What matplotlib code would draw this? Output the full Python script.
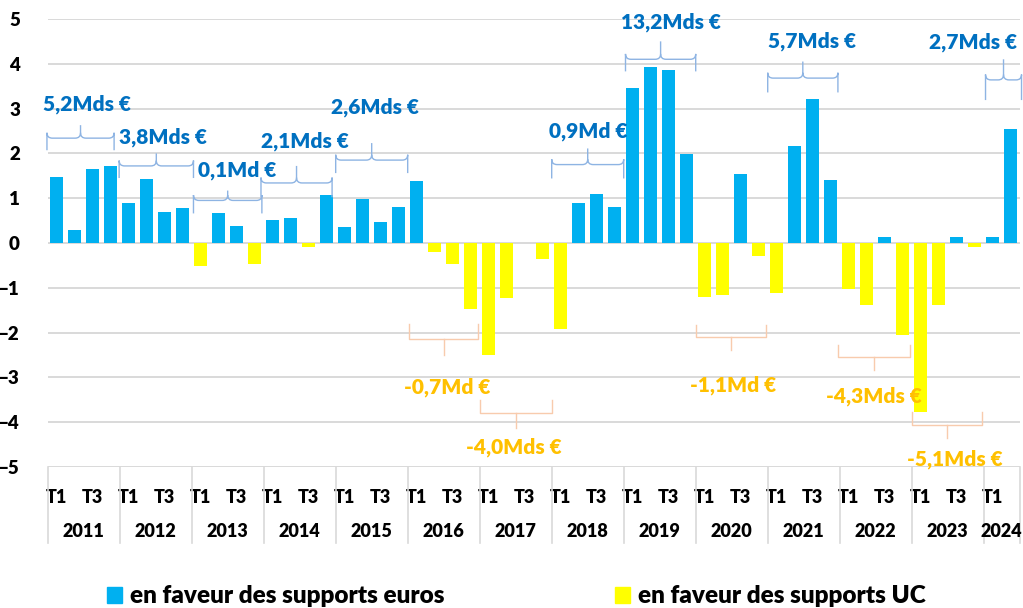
import numpy as np
import matplotlib.pyplot as plt
import matplotlib.transforms as mtransforms
from matplotlib.path import Path
from matplotlib.patches import PathPatch, Patch

plt.rcParams['font.family'] = ['Lato', 'DejaVu Sans']
plt.rcParams['font.weight'] = 'bold'

# donnees : flux nets trimestriels (Mds EUR), T1 2011 -> T2 2024
annees = ['2011', '2012', '2013', '2014', '2015', '2016', '2017',
          '2018', '2019', '2020', '2021', '2022', '2023', '2024']
trim_labels = ['T1', '', 'T3', '']
flux = [1.48, 0.28, 1.65, 1.71,
        0.89, 1.42, 0.69, 0.78,
        -0.51, 0.66, 0.37, -0.46,
        0.52, 0.56, -0.09, 1.08,
        0.35, 0.98, 0.46, 0.81,
        1.38, -0.21, -0.46, -1.48,
        -2.50, -1.23, 0.0, -0.36,
        -1.92, 0.89, 1.10, 0.80,
        3.47, 3.92, 3.86, 1.99,
        -1.20, -1.17, 1.54, -0.30,
        -1.11, 2.17, 3.21, 1.40,
        -1.02, -1.39, 0.13, -2.05,
        -3.78, -1.39, 0.13, -0.09,
        0.13, 2.54]
totaux_euros = ['5,2Mds €', '3,8Mds €', '0,1Md €', '2,1Mds €', '2,6Mds €',
                '0,9Md €', '13,2Mds €', '5,7Mds €', '2,7Mds €']
totaux_uc = ['-0,7Md €', '-4,0Mds €', '-1,1Md €', '-4,3Mds €', '-5,1Mds €']
leg_labels = ['en faveur des supports euros', 'en faveur des supports UC']

bleu = '#00B0F0'
jaune = '#FFFF00'

# placement des accolades : x0, x1, y extremites, y horizontal, y pointe, x texte, y texte
pos_euros = [(-0.54, 3.19, 2.07, 2.34, 2.63, 1.7, 3.10),
             (3.47, 7.6, 1.45, 1.72, 2.00, 5.9, 2.37),
             (7.6, 11.4, 0.66, 0.95, 1.17, 10.0, 1.62),
             (11.35, 15.3, 1.02, 1.34, 1.72, 13.8, 2.26),
             (15.5, 19.5, 1.56, 1.85, 2.23, 17.7, 3.04),
             (27.5, 31.5, 1.44, 1.75, 2.11, 29.5, 2.50),
             (31.6, 35.5, 3.83, 4.10, 4.50, 34.1, 4.92),
             (39.5, 43.4, 3.36, 3.68, 4.05, 41.96, 4.50),
             (51.6, 53.6, 3.19, 3.64, 4.10, 50.9, 4.47)]
pos_uc = [(19.6, 23.4, -1.80, -2.15, -2.50, 21.7, -3.22),
          (23.5, 27.5, -3.50, -3.80, -4.14, 25.4, -4.55),
          (35.5, 39.4, -1.83, -2.10, -2.38, 37.56, -3.17),
          (43.4, 47.4, -2.27, -2.55, -2.83, 45.4, -3.43),
          (47.5, 51.4, -3.78, -4.06, -4.35, 49.9, -4.82)]

vals = np.array(flux)
x = np.arange(len(vals))
euros = np.where(vals > 0, vals, 0)
uc = np.where(vals < 0, vals, 0)

fig = plt.figure(figsize=(10.23, 6.08), dpi=100)
ax = fig.add_axes([0.0466, 0.2319, 0.9502, 0.7369])

ax.bar(x, euros, width=0.7, color=bleu, zorder=3)
ax.bar(x, uc, width=0.7, color=jaune, zorder=3)

ax.set_xlim(-0.5, len(vals) - 0.5)
ax.set_ylim(-5, 5)
ax.set_yticks(range(-5, 6))
ax.yaxis.grid(True, color='#D9D9D9', linewidth=1.4, zorder=0)
for s in ax.spines.values():
    s.set_visible(False)
ax.tick_params(axis='y', length=0, pad=20, labelsize=13.5)
for t in ax.get_yticklabels():
    t.set_fontweight('heavy')

# axe des categories
labels_t = [trim_labels[i % 4] for i in range(len(vals))]
ax.set_xticks(x)
ax.set_xticklabels(labels_t, fontsize=13, fontweight='heavy')
ax.tick_params(axis='x', length=0, pad=16)
trans = mtransforms.blended_transform_factory(ax.transData, ax.transAxes)
for k, an in enumerate(annees):
    debut = 4 * k - 0.5
    fin = min(4 * k + 3.5, len(vals) - 0.5)
    ax.text((debut + fin) / 2, -0.145, an, transform=trans, ha='center',
            va='center', fontsize=13, fontweight='heavy')
    ax.plot([debut, debut], [0, -0.17], transform=trans, color='#D9D9D9',
            lw=1.2, clip_on=False)
ax.plot([len(vals) - 0.5] * 2, [0, -0.17], transform=trans, color='#D9D9D9',
        lw=1.2, clip_on=False)


def accolade(x0, x1, ye, yh, yt, couleur):
    xc = (x0 + x1) / 2
    rx, ry = 0.3, 0.12
    verts = [(x0, ye), (x0, yh + ry), (x0, yh), (x0 + rx, yh),
             (xc - rx, yh), (xc, yh), (xc, yh + ry), (xc, yt),
             (xc, yh + ry), (xc, yh), (xc + rx, yh),
             (x1 - rx, yh), (x1, yh), (x1, yh + ry), (x1, ye)]
    codes = [Path.MOVETO, Path.LINETO, Path.CURVE3, Path.CURVE3,
             Path.LINETO, Path.CURVE3, Path.CURVE3, Path.LINETO,
             Path.MOVETO, Path.CURVE3, Path.CURVE3,
             Path.LINETO, Path.CURVE3, Path.CURVE3, Path.LINETO]
    ax.add_patch(PathPatch(Path(verts, codes), fill=False, edgecolor=couleur,
                           lw=1.0, clip_on=False, zorder=4))


for txt, (x0, x1, ye, yh, yt, tx, ty) in zip(totaux_euros, pos_euros):
    accolade(x0, x1, ye, yh, yt, '#8EB4E3')
    ax.text(tx, ty, txt, color='#0070C0', fontsize=15, ha='center',
            va='center', zorder=5, fontweight='heavy')

for txt, (x0, x1, ye, yh, yt, tx, ty) in zip(totaux_uc, pos_uc):
    xc = (x0 + x1) / 2
    ax.plot([x0, x0, x1, x1], [ye, yh, yh, ye], color='#F8CBAD', lw=1.0,
            clip_on=False, zorder=4)
    ax.plot([xc, xc], [yh, yt], color='#F8CBAD', lw=1.0, clip_on=False, zorder=4)
    ax.text(tx, ty, txt, color='#FFC000', fontsize=15, ha='center',
            va='center', zorder=5, fontweight='heavy')

handles = [Patch(color=bleu), Patch(color=jaune)]
fig.legend(handles, leg_labels, loc='center', ncol=2, frameon=False,
           bbox_to_anchor=(0.505, 0.019), prop={'size': 17.5, 'weight': 'heavy'},
           handlelength=0.6, handleheight=0.6, handletextpad=0.35,
           columnspacing=7.0)

fig.savefig('out.png', dpi=100)
